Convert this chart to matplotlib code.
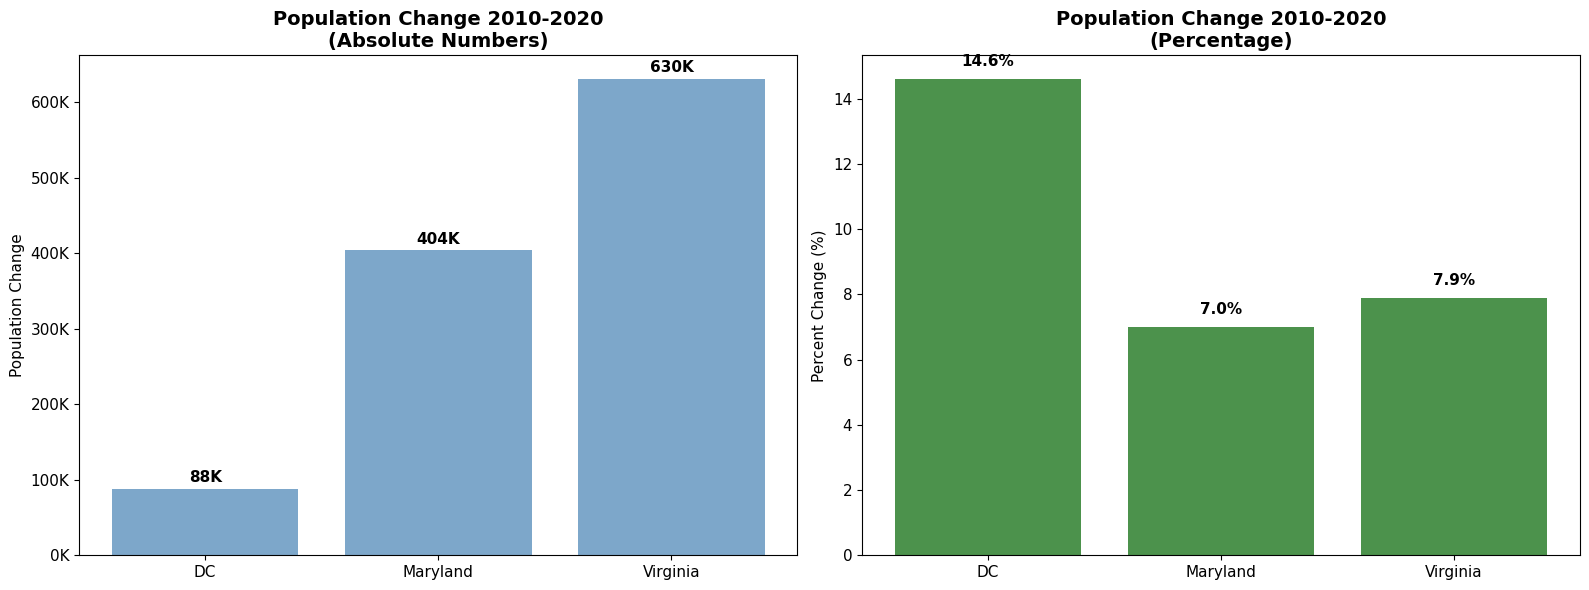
import numpy as np
import matplotlib.pyplot as plt
from matplotlib.ticker import FuncFormatter

# Data
states = ['DC', 'Maryland', 'Virginia']
abs_change = [87759, 403672, 630369]
pct_change = [14.6, 7.0, 7.9]

fig, (ax1, ax2) = plt.subplots(1, 2, figsize=(16, 6), dpi=100)

# Absolute numbers
bars1 = ax1.bar(states, abs_change, color='steelblue', alpha=0.7)
ax1.set_title('Population Change 2010-2020\n(Absolute Numbers)', fontsize=14, fontweight='bold')
ax1.set_ylabel('Population Change', fontsize=11)
ax1.yaxis.set_major_formatter(FuncFormatter(lambda v, p: f'{v/1000:.0f}K'))
ax1.tick_params(labelsize=11)
for b, v in zip(bars1, abs_change):
    ax1.text(b.get_x() + b.get_width()/2, v + 5000, f'{v/1000:.0f}K',
             ha='center', va='bottom', fontsize=11, fontweight='bold')

# Percentage
bars2 = ax2.bar(states, pct_change, color='darkgreen', alpha=0.7)
ax2.set_title('Population Change 2010-2020\n(Percentage)', fontsize=14, fontweight='bold')
ax2.set_ylabel('Percent Change (%)', fontsize=11)
ax2.tick_params(labelsize=11)
for b, v in zip(bars2, pct_change):
    ax2.text(b.get_x() + b.get_width()/2, v + 0.3, f'{v:.1f}%',
             ha='center', va='bottom', fontsize=11, fontweight='bold')

plt.tight_layout()
plt.savefig('out.png', dpi=100, bbox_inches='tight')
